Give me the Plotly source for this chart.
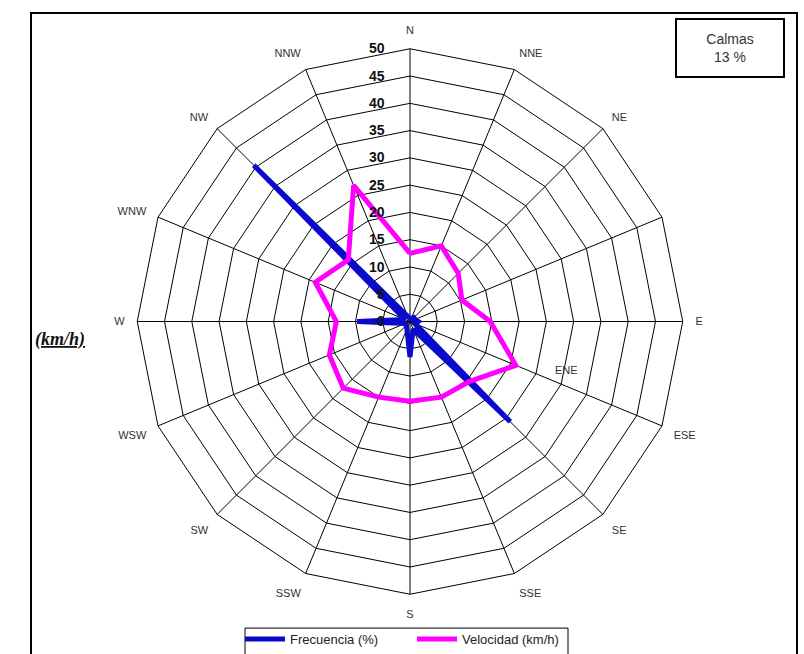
import plotly.graph_objects as go

directions = ["N", "NNE", "NE", "ENE", "E", "ESE", "SE", "SSE",
              "S", "SSW", "SW", "WSW", "W", "WNW", "NW", "NNW"]
# angular tick labels as drawn on the outer ring (ENE label is drawn inside)
ring_labels = ["N", "NNE", "NE", "", "E", "ESE", "SE", "SSE",
               "S", "SSW", "SW", "WSW", "W", "WNW", "NW", "NNW"]
frecuencia = [1.0, 0.5, 1.0, 1.0, 1.5, 1.0, 26.0, 1.5,
              6.5, 1.5, 1.0, 1.0, 9.7, 1.0, 40.5, 1.0]
velocidad = [12.5, 15.0, 12.5, 10.3, 14.7, 21.0, 15.5, 15.0,
             14.6, 15.0, 17.3, 16.0, 13.5, 18.8, 16.0, 27.0]
radial_ticks = [0, 5, 10, 15, 20, 25, 30, 35, 40, 45, 50]
calmas = "13 %"

theta_closed = directions + directions[:1]

fig = go.Figure()
fig.add_trace(go.Scatterpolar(
    r=frecuencia + frecuencia[:1], theta=theta_closed, mode="lines",
    name="Frecuencia (%)", line=dict(color="#0a0acc", width=5),
    legend="legend"))
fig.add_trace(go.Scatterpolar(
    r=velocidad + velocidad[:1], theta=theta_closed, mode="lines",
    name="Velocidad (km/h)", line=dict(color="#ff00ff", width=5),
    legend="legend2"))

W, H = 804, 654
cx, cy, R = 410, 323, 274

leg_common = dict(orientation="h", xanchor="left", yanchor="middle",
                  y=1 - 642 / H, borderwidth=0, bgcolor="rgba(0,0,0,0)",
                  font=dict(size=13, color="#222"), itemwidth=40)

fig.update_layout(
    width=W, height=H,
    margin=dict(l=0, r=0, t=0, b=0),
    paper_bgcolor="white", plot_bgcolor="white",
    font=dict(family="Arial, Liberation Sans, sans-serif", color="#222"),
    polar=dict(
        domain=dict(x=[(cx - R) / W, (cx + R) / W],
                    y=[1 - (cy + R) / H, 1 - (cy - R) / H]),
        bgcolor="white",
        gridshape="linear",
        angularaxis=dict(
            type="category", categoryarray=directions,
            rotation=90, direction="clockwise",
            tickmode="array", tickvals=directions, ticktext=ring_labels,
            showline=True, linecolor="black", linewidth=1,
            gridcolor="black", gridwidth=1,
            ticks="outside", ticklen=10, tickcolor="rgba(0,0,0,0)",
            tickfont=dict(size=11, color="#333")),
        radialaxis=dict(
            range=[0, 50], tickvals=radial_ticks, angle=90, tickangle=90,
            side="counterclockwise",
            showline=False, gridcolor="black", gridwidth=1,
            ticks="outside", ticklen=20, tickcolor="rgba(0,0,0,0)",
            tickfont=dict(size=14, color="#111", weight="bold")),
    ),
    showlegend=True,
    legend=dict(x=240 / W, **leg_common),
    legend2=dict(x=412 / W, **leg_common),
    shapes=[
        dict(type="rect", xref="paper", yref="paper",
             x0=31 / W, x1=797 / W, y0=-0.05, y1=1 - 13 / H,
             line=dict(color="black", width=2)),
        dict(type="rect", xref="paper", yref="paper",
             x0=245 / W, x1=568 / W, y0=-0.05, y1=1 - 631 / H,
             line=dict(color="black", width=1)),
    ],
    annotations=[
        dict(text="Calmas<br>" + calmas, xref="paper", yref="paper",
             x=730 / W, y=1 - 48 / H, xanchor="center", yanchor="middle",
             showarrow=False,
             width=104, height=54, bordercolor="black", borderwidth=2,
             bgcolor="white", font=dict(size=14, color="#333")),
        dict(text="<b><i><u>(km/h)</u></i></b>", xref="paper", yref="paper",
             x=60 / W, y=1 - 341 / H, xanchor="center", yanchor="middle",
             showarrow=False,
             font=dict(size=18, family="Liberation Serif, serif", color="#111")),
        dict(text="ENE", xref="paper", yref="paper",
             x=566 / W, y=1 - 372 / H, xanchor="center", yanchor="middle",
             showarrow=False,
             font=dict(size=11, color="#333")),
    ],
)

fig.write_html(
    "out.html",
    config={"displayModeBar": False},
    post_script="document.body.style.margin='0';document.body.style.overflow='hidden';")
